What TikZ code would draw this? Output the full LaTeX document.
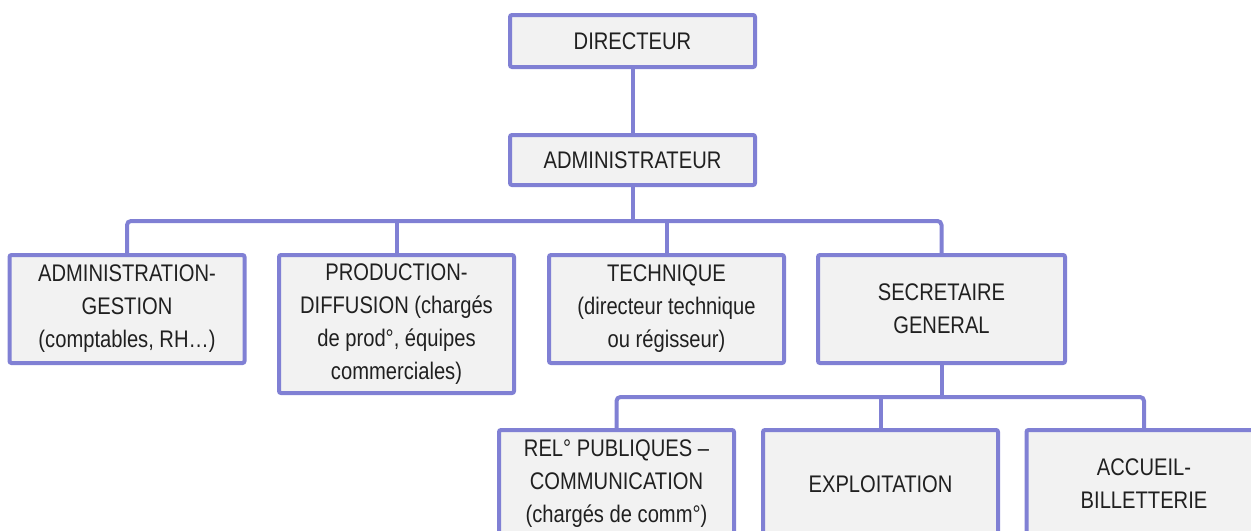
\documentclass[tikz,border=0pt]{standalone}
\usepackage{fontspec}
\setmainfont{Liberation Sans}[FakeStretch=0.84]
\definecolor{boxline}{HTML}{8080D4}
\definecolor{boxfill}{HTML}{F2F2F2}
\definecolor{boxtext}{HTML}{202020}
\begin{document}
\begin{tikzpicture}[
    x=0.5pt, y=-0.5pt,
    unit/.style={draw=boxline, fill=boxfill, line width=2pt, rounded corners=1pt,
        align=center, inner sep=0pt, text=boxtext, minimum width=117.5pt},
    link/.style={draw=boxline, line width=2pt, rounded corners=2pt},
    every node/.style={font=\fontsize{12}{16.5}\selectfont}
]
\useasboundingbox (0,0) rectangle (1251,530);
\clip (0,0) rectangle (1251,530);

% Direction
\node[unit, minimum width=122.5pt, minimum height=26pt] (dir) at (632.5,41) {DIRECTEUR};
\node[unit, minimum width=122.5pt, minimum height=25pt] (adm) at (632.5,160) {ADMINISTRATEUR};

% Services
\node[unit, minimum height=54pt] (ag) at (127,309) {ADMINISTRATION-\\GESTION\\(comptables, RH…)};
\node[unit, minimum height=69pt] (pd) at (396.5,324) {PRODUCTION-\\DIFFUSION\ (chargés\\de prod°, équipes\\commerciales)};
\node[unit, minimum height=54pt] (tech) at (666.5,309) {TECHNIQUE\\(directeur technique\\ou régisseur)};
\node[unit, minimum width=123.5pt, minimum height=54pt] (sg) at (941.5,309) {SECRETAIRE\\GENERAL};

% Secretariat general
\node[unit, minimum height=54pt] (rel) at (616.5,484) {REL° PUBLIQUES –\\COMMUNICATION\\(chargés de comm°)};
\node[unit, minimum height=54pt] (expl) at (880.5,484) {EXPLOITATION};
\node[unit, minimum height=54pt] (acc) at (1144,484) {ACCUEIL-\\BILLETTERIE};

% Links
\coordinate (bus1) at (632.5,221);
\coordinate (bus2) at (941.5,397);
\draw[link] (dir) -- (adm);
\draw[link] (adm) -- (bus1);
\draw[link] (ag.north) |- (bus1) -| (sg.north);
\draw[link] (pd.north) -- (pd.north |- bus1);
\draw[link] (tech.north) -- (tech.north |- bus1);
\draw[link] (sg) -- (bus2);
\draw[link] (rel.north) |- (bus2) -| (acc.north);
\draw[link] (expl.north) -- (expl.north |- bus2);

\end{tikzpicture}
\end{document}
